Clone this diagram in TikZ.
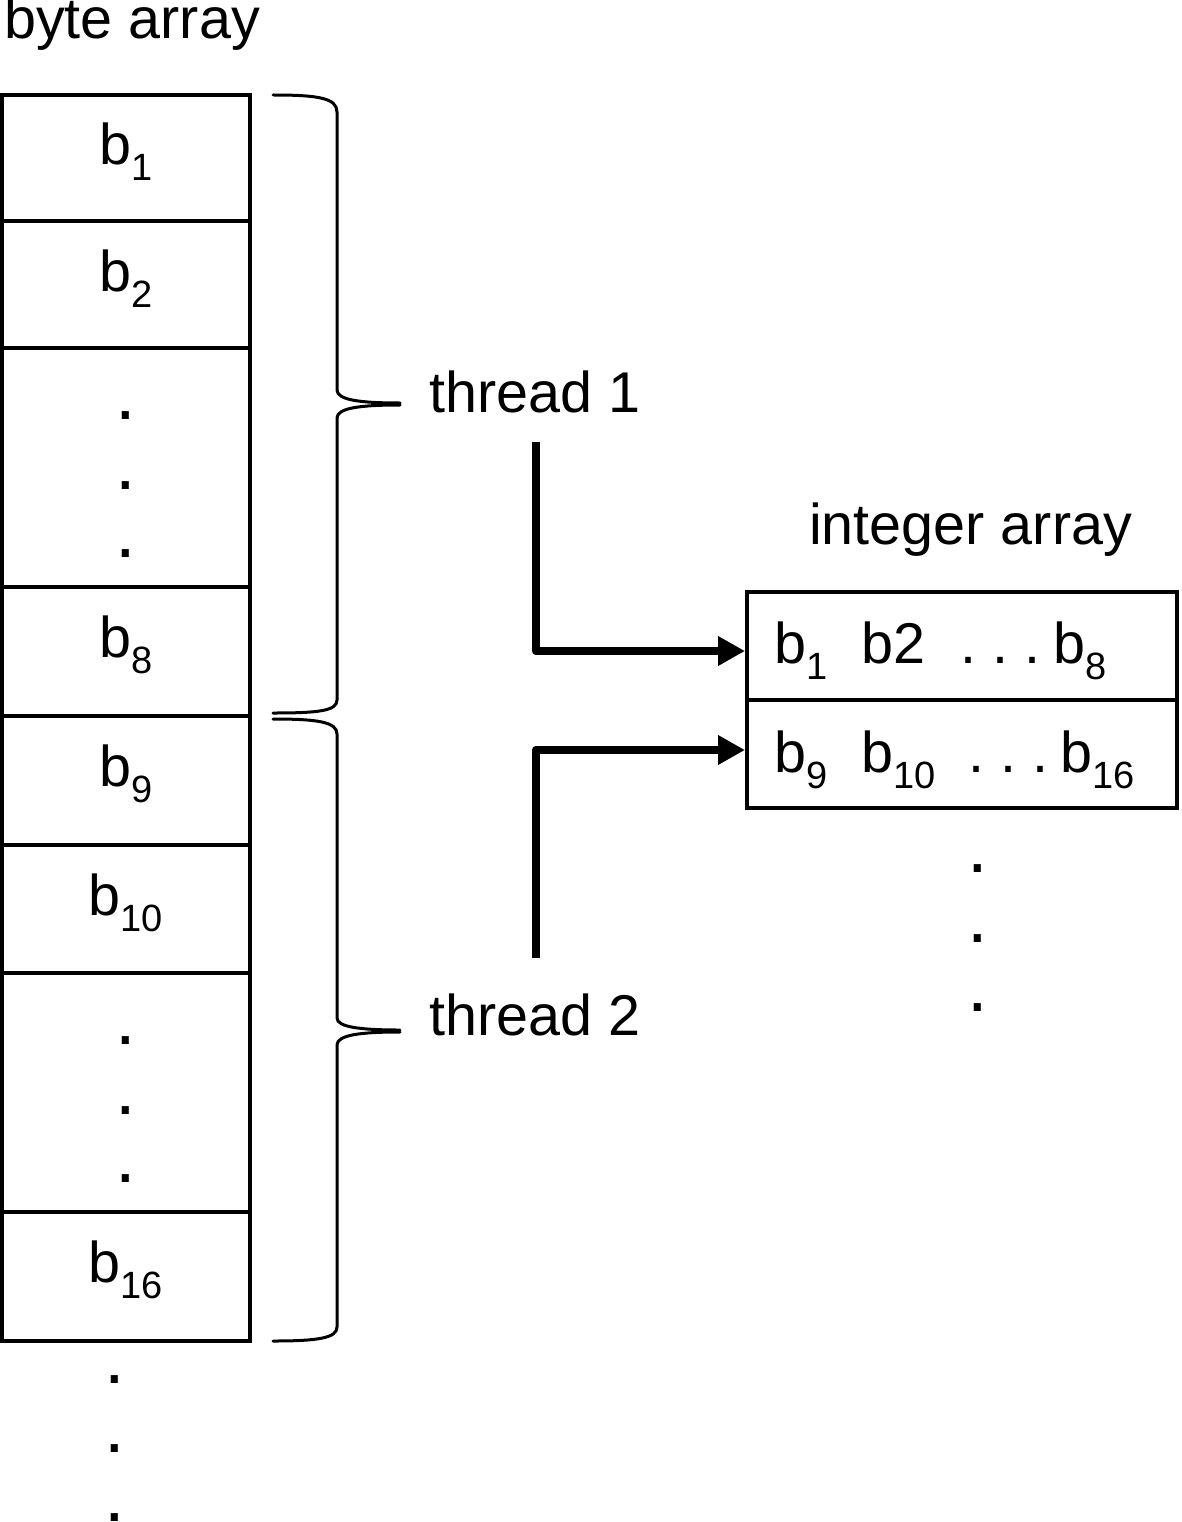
\documentclass[tikz,border=0pt]{standalone}
\usepackage{fontspec}
\setmainfont{Liberation Sans}
\usetikzlibrary{arrows.meta}
\newcommand\subs[1]{\raisebox{-16pt}{\fontsize{38}{40}\selectfont #1}}
\begin{document}
\begin{tikzpicture}[x=1pt,y=-1pt,
  every node/.style={font=\fontsize{57.5}{69}\selectfont, inner sep=0pt},
  cell/.style={draw, line width=4pt, minimum width=248pt, anchor=center},
  txt/.style={anchor=base},
  txtw/.style={anchor=base west},
  dotmark/.style={anchor=base, font=\fontsize{74}{80}\selectfont},
  brace/.style={line width=3pt, line cap=round},
  feed/.style={line width=8.5pt, line join=round, -{Triangle[length=27pt,width=28pt]}}]
\useasboundingbox (0,0) rectangle (1181,1522);
% byte array cells
\node[cell, minimum height=126pt] (c1) at (126,158) {};
\node[cell, minimum height=127pt] (c2) at (126,284.5) {};
\node[cell, minimum height=239pt] (c3) at (126,467.5) {};
\node[cell, minimum height=129pt] (c4) at (126,651.5) {};
\node[cell, minimum height=129pt] (c5) at (126,780.5) {};
\node[cell, minimum height=128pt] (c6) at (126,909) {};
\node[cell, minimum height=239pt] (c7) at (126,1092.5) {};
\node[cell, minimum height=129pt] (c8) at (126,1276.5) {};
% cell texts
\node[txt] (t1) at (126,165) {b\subs{1}};
\node[txt] (t2) at (126,291) {b\subs{2}};
\node[dotmark] (d31) at (126,419) {.};
\node[dotmark] (d32) at (126,489) {.};
\node[dotmark] (d33) at (126,557) {.};
\node[txt] (t8) at (126,657) {b\subs{8}};
\node[txt] (t9) at (126,786) {b\subs{9}};
\node[txt] (t10) at (126,915) {b\subs{10}};
\node[dotmark] (d71) at (126,1044) {.};
\node[dotmark] (d72) at (126,1114) {.};
\node[dotmark] (d73) at (126,1182) {.};
\node[txt] (t16) at (126,1282) {b\subs{16}};
% dots below byte array
\node[dotmark] (e1) at (115,1383) {.};
\node[dotmark] (e2) at (115,1452) {.};
\node[dotmark] (e3) at (115,1521) {.};
% labels
\node[txtw] (lbl1) at (4,39) {byte array};
\node[txtw] (th1) at (429,412) {thread 1};
\node[txtw] (th2) at (429,1035) {thread 2};
\node[txtw] (lbl2) at (809,544) {integer array};
% integer array
\node[cell, minimum width=430pt, minimum height=108pt] (r1) at (962,646) {};
\node[cell, minimum width=430pt, minimum height=108pt] (r2) at (962,754) {};
\node[txtw] (row1) at (774,663) {b\subs{1}\hspace{34pt}b2\hspace{35pt}.\ .\ .\hspace{13pt}b\subs{8}};
\node[txtw] (row2) at (774,772) {b\subs{9}\hspace{34pt}b\subs{10}\hspace{33pt}.\ .\ .\hspace{12pt}b\subs{16}};
\node[dotmark] (f1) at (978,872) {.};
\node[dotmark] (f2) at (978,942) {.};
\node[dotmark] (f3) at (978,1011) {.};
% braces
\draw[brace] (273,95) .. controls (318,95) and (337,98) .. (337,112) -- (337,390)
  .. controls (337,400) and (360,403) .. (400,403);
\draw[brace] (400,405) .. controls (360,405) and (337,408) .. (337,418) -- (337,700)
  .. controls (337,711) and (318,713) .. (273,713);
\draw[brace] (273,719) .. controls (318,719) and (337,722) .. (337,734) -- (337,1018)
  .. controls (337,1027) and (360,1030) .. (400,1030);
\draw[brace] (400,1032) .. controls (360,1032) and (337,1035) .. (337,1045) -- (337,1327)
  .. controls (337,1338) and (318,1341) .. (273,1341);
% arrows
\coordinate (s1) at (536,442);
\coordinate (s2) at (536,958);
\draw[feed] (s1) |- ([yshift=-5pt]r1.west);
\draw[feed] (s2) |- ([yshift=4pt]r2.west);
\end{tikzpicture}
\end{document}
